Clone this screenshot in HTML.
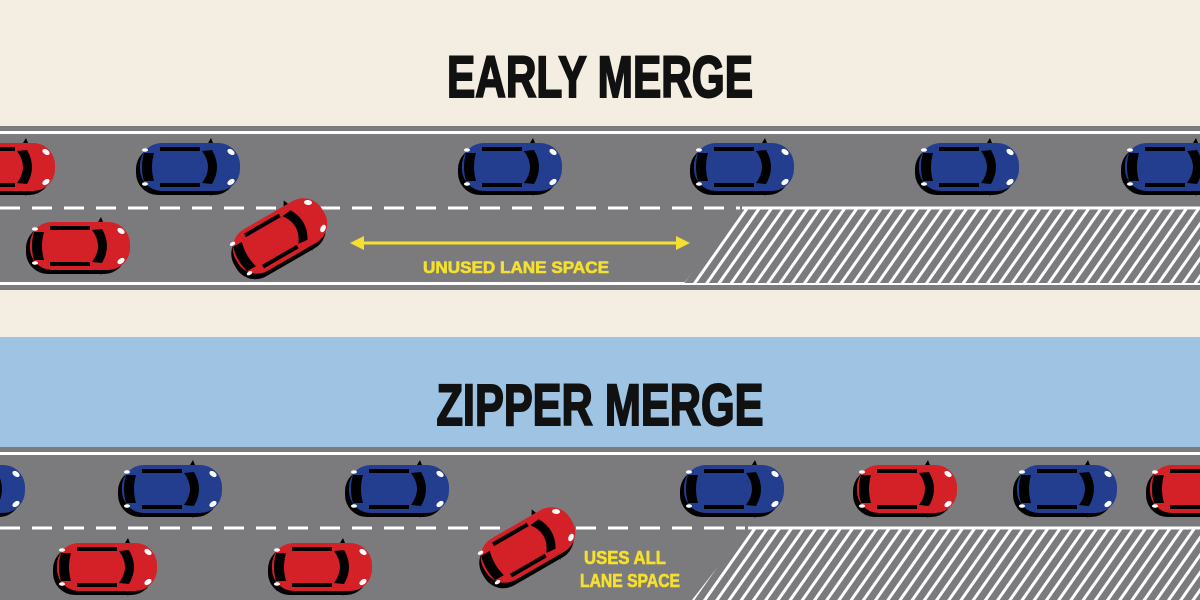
<!DOCTYPE html>
<html><head><meta charset="utf-8"><style>html,body{margin:0;padding:0;}svg{display:block}</style></head>
<body>
<svg width="1200" height="600" viewBox="0 0 1200 600" xmlns="http://www.w3.org/2000/svg">
<defs>
<pattern id="hatch" patternUnits="userSpaceOnUse" width="10" height="10" patternTransform="rotate(35)">
<rect width="10" height="10" fill="#7b7b7d"/>
<rect x="0" y="0" width="3" height="10" fill="#fff"/>
</pattern>
<g id="car">
<rect x="-54" y="-20" width="100" height="48" rx="22" fill="#000"/>
<rect x="-50" y="-24" width="100" height="48" rx="22" fill="currentColor"/>
<path d="M-46,-14 Q-50,0 -46,14 L-36,14 Q-40,0 -36,-14 Z" fill="#000"/>
<path d="M12,-16 Q24,0 12,16 L22,17 Q32,0 22,-17 Z" fill="#000"/>
<rect x="-30" y="-20" width="40" height="4" fill="#000"/>
<rect x="-30" y="16" width="40" height="4" fill="#000"/>
<path d="M18,-24 l3,-5 l2,5z M18,24 l3,5 l2,-5z" fill="#000"/>
<ellipse cx="41" cy="-15" rx="4" ry="2.5" fill="#fff" transform="rotate(35 41 -15)"/>
<ellipse cx="41" cy="15" rx="4" ry="2.5" fill="#fff" transform="rotate(-35 41 15)"/>
<ellipse cx="-45" cy="-17" rx="3" ry="1.8" fill="#fff"/>
<ellipse cx="-45" cy="17" rx="3" ry="1.8" fill="#fff"/>
</g>
</defs>
<rect width="1200" height="337" fill="#f3ede2"/>
<rect y="337" width="1200" height="110" fill="#9fc4e3"/>
<text x="600" y="97" font-family="Liberation Sans, sans-serif" font-weight="bold" font-size="58" text-anchor="middle" textLength="306" lengthAdjust="spacingAndGlyphs" fill="#111" stroke="#111" stroke-width="2">EARLY MERGE</text>
<text x="600" y="425" font-family="Liberation Sans, sans-serif" font-weight="bold" font-size="58" text-anchor="middle" textLength="327" lengthAdjust="spacingAndGlyphs" fill="#111" stroke="#111" stroke-width="2">ZIPPER MERGE</text>

<rect y="126" width="1200" height="164" fill="#7b7b7d"/>
<rect y="131" width="1200" height="3" fill="#fff"/>
<rect y="282" width="1200" height="3" fill="#fff"/>
<line x1="0" y1="208" x2="740" y2="208" stroke="#fff" stroke-width="3" stroke-dasharray="20,12"/>
<polygon points="742,208 1200,208 1200,283 684,283" fill="url(#hatch)"/>
<line x1="742" y1="208" x2="1200" y2="208" stroke="#fff" stroke-width="3"/>

<rect y="447" width="1200" height="153" fill="#7b7b7d"/>
<rect y="452" width="1200" height="3" fill="#fff"/>
<line x1="0" y1="528" x2="745" y2="528" stroke="#fff" stroke-width="3" stroke-dasharray="20,12"/>
<polygon points="748,528 1200,528 1200,600 692,600" fill="url(#hatch)"/>
<line x1="748" y1="528" x2="1200" y2="528" stroke="#fff" stroke-width="3"/>

<use href="#car" x="5" y="167" color="#d42027"/>
<use href="#car" x="190" y="167" color="#233e8f"/>
<use href="#car" x="512" y="167" color="#233e8f"/>
<use href="#car" x="744" y="167" color="#233e8f"/>
<use href="#car" x="969" y="167" color="#233e8f"/>
<use href="#car" x="1175" y="167" color="#233e8f"/>
<use href="#car" x="80" y="246" color="#d42027"/>
<g transform="translate(280,236) rotate(-30)"><use href="#car" color="#d42027"/></g>

<line x1="362" y1="243" x2="678" y2="243" stroke="#f5e030" stroke-width="3"/>
<polygon points="350,243 364,236 364,250" fill="#f5e030"/>
<polygon points="690,243 676,236 676,250" fill="#f5e030"/>
<text x="516" y="273" font-family="Liberation Sans, sans-serif" font-weight="bold" font-size="17" text-anchor="middle" textLength="186" lengthAdjust="spacingAndGlyphs" fill="#f5e030" stroke="#f5e030" stroke-width="0.6">UNUSED LANE SPACE</text>

<use href="#car" x="-25" y="489" color="#233e8f"/>
<use href="#car" x="172" y="489" color="#233e8f"/>
<use href="#car" x="399" y="489" color="#233e8f"/>
<use href="#car" x="734" y="489" color="#233e8f"/>
<use href="#car" x="907" y="489" color="#d42027"/>
<use href="#car" x="1067" y="489" color="#233e8f"/>
<use href="#car" x="1200" y="489" color="#d42027"/>
<use href="#car" x="107" y="567" color="#d42027"/>
<use href="#car" x="322" y="567" color="#d42027"/>
<g transform="translate(528,545) rotate(-30)"><use href="#car" color="#d42027"/></g>
<text x="625" y="564" font-family="Liberation Sans, sans-serif" font-weight="bold" font-size="18" text-anchor="middle" textLength="82" lengthAdjust="spacingAndGlyphs" fill="#f5e030" stroke="#f5e030" stroke-width="0.6">USES ALL</text>
<text x="630" y="587" font-family="Liberation Sans, sans-serif" font-weight="bold" font-size="18" text-anchor="middle" textLength="100" lengthAdjust="spacingAndGlyphs" fill="#f5e030" stroke="#f5e030" stroke-width="0.6">LANE SPACE</text>
</svg>
</body></html>
